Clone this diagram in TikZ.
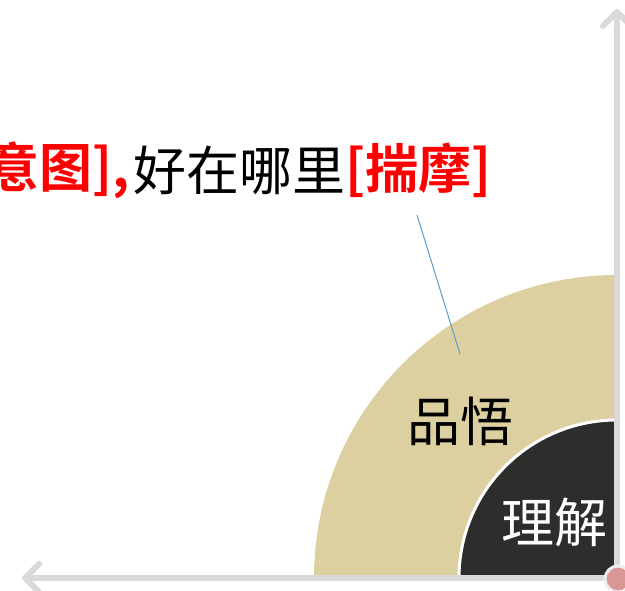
\documentclass[tikz,border=0pt]{standalone}
\usepackage{fontspec}
\setmainfont{Noto Sans CJK SC}
\newfontfamily\cjkbold{Noto Sans CJK SC Bold}
\usetikzlibrary{arrows.meta}
\definecolor{tan}{RGB}{221,208,160}
\definecolor{darkq}{RGB}{45,45,43}
\definecolor{axisgray}{RGB}{217,217,217}
\definecolor{leaderblue}{RGB}{91,155,213}
\definecolor{dotpink}{RGB}{217,150,148}
\tikzset{
  axisline/.style={draw=axisgray, line width=6pt, -{Straight Barb[length=14pt,width=28pt,line width=6pt,round]}},
  cjk/.style={inner sep=0pt, font=\fontsize{53}{60}\selectfont},
  redbold/.style={cjk, text=red, font=\fontsize{53}{60}\selectfont\cjkbold},
}
\begin{document}
\begin{tikzpicture}[x=1pt,y=1pt]
\useasboundingbox (0,0) rectangle (625,591);
\clip (0,0) rectangle (625,591);
\coordinate (O) at (617,13);
% outer tan quarter disk
\fill[tan] (O) -- ++(180:303) arc[start angle=180,end angle=90,radius=303] -- cycle;
% inner dark quarter disk
\filldraw[fill=darkq, draw=white, line width=3pt] (O) -- ++(180:158) arc[start angle=180,end angle=90,radius=158] -- cycle;
% axes
\coordinate (xend) at (22,13);
\coordinate (yend) at (617,582);
\draw[axisline] (O) -- (xend);
\draw[axisline] (617,8) -- (yend);
% corner dot
\node[circle, fill=dotpink, draw=white!93!black, line width=3pt, minimum size=26pt, inner sep=0pt] (dot) at (618,12) {};
% labels
\node[cjk] (pinwu) at (460,170) {品悟};
\node[cjk, text=white] (lijie) at (554,69) {理解};
% title
\node[redbold, anchor=east] (t1) at (130,421) {意图],};
\node[cjk, anchor=west] (t2) at (133,421) {好在哪里};
\node[redbold, anchor=west] (t3) at (345,421) {[揣摩]};
% leader
\coordinate (lstart) at (417,376);
\coordinate (lend) at (460,237);
\draw[leaderblue, line width=1pt] (lstart) -- (lend);
\end{tikzpicture}
\end{document}
